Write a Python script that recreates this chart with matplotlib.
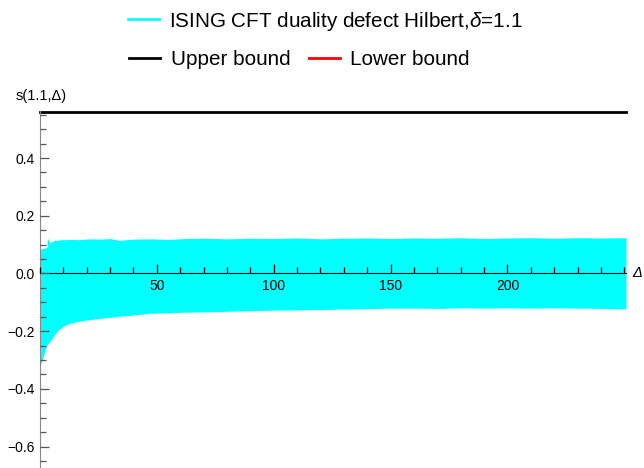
import matplotlib
matplotlib.use("Agg")
import matplotlib.pyplot as plt
from matplotlib.lines import Line2D
from matplotlib.ticker import MultipleLocator

plt.rcParams['font.family'] = ['Liberation Sans', 'DejaVu Sans']
plt.rcParams['mathtext.fontset'] = 'custom'
plt.rcParams['mathtext.rm'] = 'Liberation Sans'
plt.rcParams['mathtext.it'] = 'Liberation Sans:italic'

# ---- data ----
delta = [0, 1, 2, 2.9, 3.2, 4.3, 5.6, 6.4, 8, 10, 13, 17, 21, 26, 30, 34, 40, 47,
         55, 62, 70, 80, 90, 100, 110, 120, 130, 140, 150, 160, 170, 180, 190,
         200, 210, 220, 230, 240, 250.7]
band_upper = [0.085, 0.086, 0.088, 0.090, 0.122, 0.106, 0.113, 0.115, 0.116, 0.117,
              0.118, 0.117, 0.120, 0.119, 0.121, 0.115, 0.119, 0.120, 0.118, 0.121,
              0.122, 0.120, 0.122, 0.121, 0.123, 0.120, 0.122, 0.123, 0.121, 0.123,
              0.122, 0.124, 0.121, 0.123, 0.124, 0.122, 0.124, 0.123, 0.124]
band_lower = [-0.320, -0.300, -0.270, -0.250, -0.245, -0.235, -0.220, -0.210, -0.195,
              -0.182, -0.172, -0.165, -0.160, -0.155, -0.152, -0.148, -0.144, -0.138,
              -0.136, -0.134, -0.133, -0.131, -0.129, -0.127, -0.126, -0.125, -0.123,
              -0.122, -0.120, -0.120, -0.121, -0.119, -0.120, -0.119, -0.120, -0.119,
              -0.120, -0.121, -0.123]
upper_bound = 0.56
lower_bound = -0.75
x_range = [0, 250.7]

series_label = r"ISING CFT duality defect Hilbert,$\delta$=1.1"
upper_label = "Upper bound"
lower_label = "Lower bound"
y_label = "s(1.1,Δ)"
x_label = "Δ"

cyan = '#00FFFF'

fig = plt.figure(figsize=(6.44, 4.68), dpi=100)
ax = fig.add_axes([40 / 644, 0.0, 586 / 644, 1 - 111 / 468])
ax.set_axisbelow(False)

ax.fill_between(delta, band_lower, band_upper, color=cyan, lw=0, zorder=2)
ax.plot(x_range, [upper_bound, upper_bound], color='black', lw=2.0, zorder=3,
        clip_on=False)
ax.plot(x_range, [lower_bound, lower_bound], color='red', lw=2.0, zorder=3)

ax.set_xlim(0, 250.7)
ax.set_ylim(-0.674, 0.563)

for s in ['top', 'right']:
    ax.spines[s].set_visible(False)
ax.spines['bottom'].set_position(('data', 0))
ax.spines['left'].set_position(('data', 0))
ax.spines['left'].set_color('#888888')
ax.spines['bottom'].set_color('black')
ax.spines['left'].set_zorder(4)
ax.spines['bottom'].set_zorder(4)

ax.xaxis.set_major_locator(MultipleLocator(50))
ax.xaxis.set_minor_locator(MultipleLocator(10))
ax.yaxis.set_major_locator(MultipleLocator(0.2))
ax.yaxis.set_minor_locator(MultipleLocator(0.05))
ax.tick_params(axis='both', which='major', direction='in', length=6.5, width=0.9,
               labelsize=10, pad=4)
ax.tick_params(axis='both', which='minor', direction='in', length=4, width=0.9)
ax.tick_params(axis='y', which='both', color='#555555')

ax.set_xticks([50, 100, 150, 200])
ax.set_yticks([-0.6, -0.4, -0.2, 0.0, 0.2, 0.4])
ax.set_yticklabels(['−0.6', '−0.4', '−0.2', '0.0', '0.2', '0.4'])
ax.xaxis.set_zorder(5)
ax.yaxis.set_zorder(5)

fig.text(16 / 644, 1 - 96 / 468, y_label, fontsize=10.5, ha='left', va='center')
fig.text(632 / 644, 1 - 273 / 468, x_label, fontsize=10.5, ha='left', va='center',
         style='italic')

h1 = [Line2D([], [], color=cyan, lw=2)]
h2 = [Line2D([], [], color='black', lw=2), Line2D([], [], color='red', lw=2)]
leg1 = fig.legend(h1, [series_label], loc='center', bbox_to_anchor=(0.505, 0.955),
                  frameon=False, fontsize=14.9, handlelength=1.5, handletextpad=0.52,
                  borderpad=0, borderaxespad=0)
leg2 = fig.legend(h2, [upper_label, lower_label], loc='center', ncol=2,
                  bbox_to_anchor=(0.465, 0.872), frameon=False, fontsize=14.9,
                  handlelength=1.5, handletextpad=0.52, columnspacing=0.87,
                  borderpad=0, borderaxespad=0)

fig.savefig('out.png', dpi=100)
